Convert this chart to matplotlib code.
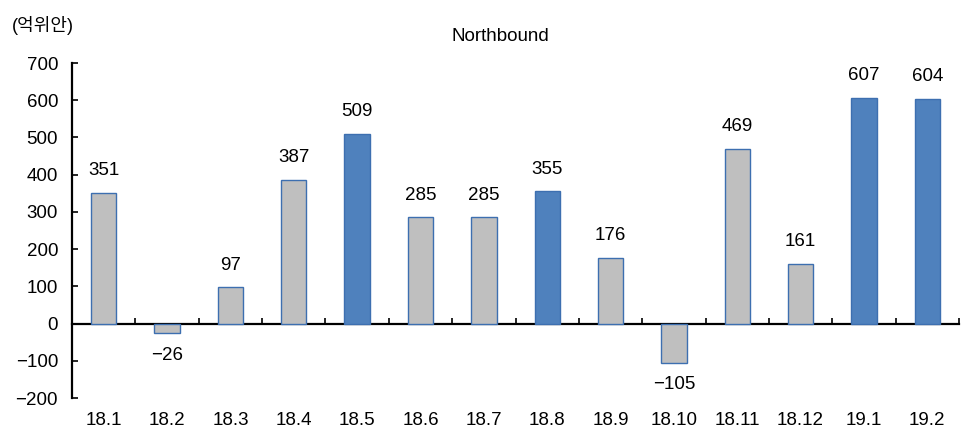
import matplotlib.pyplot as plt
import numpy as np

plt.rcParams['font.family'] = ['Liberation Sans', 'Noto Sans CJK KR', 'DejaVu Sans']
plt.rcParams['axes.unicode_minus'] = True

# monthly northbound flow (억위안)
months = ['18.1', '18.2', '18.3', '18.4', '18.5', '18.6', '18.7',
          '18.8', '18.9', '18.10', '18.11', '18.12', '19.1', '19.2']
values = [351, -26, 97, 387, 509, 285, 285, 355, 176, -105, 469, 161, 607, 604]
highlight = ['18.5', '18.8', '19.1', '19.2']

gray = '#BFBFBF'
blue = '#4F81BD'
edge = '#3D6FB0'

fig = plt.figure(figsize=(9.69, 4.34), dpi=100)
ax = fig.add_axes([0.0743, 0.0829, 0.9154, 0.7719])

x = np.arange(len(months))
colors = [blue if m in highlight else gray for m in months]
ax.bar(x, values, width=0.4, color=colors, edgecolor=edge, linewidth=1.0, zorder=2)

for xi, v in zip(x, values):
    off = 16 if v >= 0 else -16
    ax.annotate(str(v).replace('-', '\u2212'), (xi, v), xytext=(0, off),
                textcoords='offset points', ha='center', va='center', fontsize=13.5)

ax.set_xlim(-0.5, len(months) - 0.5)
ax.set_ylim(-200, 700)
ax.set_yticks(np.arange(-200, 701, 100))
ax.tick_params(axis='y', direction='in', length=4, width=1.2, labelsize=13.5, pad=10)
ax.set_xticks(x)
ax.set_xticklabels(months)
ax.tick_params(axis='x', length=0, labelsize=13.5, pad=10)

for s in ['top', 'right', 'bottom']:
    ax.spines[s].set_visible(False)
ax.spines['left'].set_linewidth(1.6)

# zero line with category separators
sec = ax.secondary_xaxis(2 / 9)
sec.set_xticks(np.arange(0.5, len(months) - 0.4, 1.0))
sec.tick_params(direction='in', length=4, width=1.2, labelbottom=False, labeltop=False)
sec.spines['bottom'].set_linewidth(1.6)
sec.spines['top'].set_visible(False)

fig.text(0.516, 0.915, 'Northbound', ha='center', va='center', fontsize=13.5)
fig.text(0.012, 0.942, '(억위안)', ha='left', va='center', fontsize=13)

plt.savefig('out.png', dpi=100)
